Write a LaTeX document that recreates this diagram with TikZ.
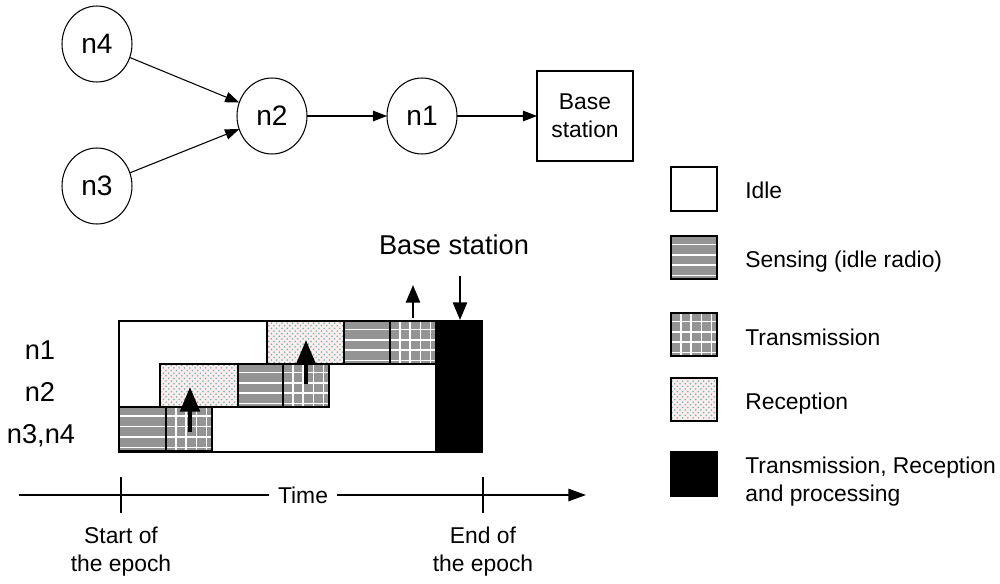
\documentclass[tikz,border=0pt]{standalone}
\usepackage{fontspec}
\setmainfont{Liberation Sans}
\usepackage{tikz}
\usetikzlibrary{arrows,%
                arrows.meta,%
                patterns,%
                calc,%
                shapes.geometric}
\usepackage{tkz-berge}
\newcommand{\hstripes}{\foreach \f in {0.2,0.44,0.68,0.92}
  \draw[white,line width=0.9pt] ($(path picture bounding box.north west)!\f!(path picture bounding box.south west)$)
    -- ($(path picture bounding box.north east)!\f!(path picture bounding box.south east)$);}
\newcommand{\vstripes}{\foreach \f in {0.22,0.44,0.66,0.88}
  \draw[white,line width=0.9pt] ($(path picture bounding box.north west)!\f!(path picture bounding box.north east)$)
    -- ($(path picture bounding box.south west)!\f!(path picture bounding box.south east)$);}
\tikzstyle{wsn}=[ellipse, draw, line width=0.6pt, fill=white, minimum width=1.4cm, minimum height=1.52cm, inner sep=0pt, font=\fontsize{16}{19}\selectfont]
\tikzstyle{sink}=[rectangle, draw, line width=0.6pt, fill=white, minimum width=1.92cm, minimum height=1.8cm, align=center, font=\fontsize{13}{16}\selectfont]
\tikzstyle{link}=[line width=0.6pt, -{Triangle[length=8pt,width=6pt]}]
\tikzstyle{idle}=[draw, line width=0.6pt, fill=white]
\tikzstyle{sensing}=[draw, line width=0.6pt, fill=black!42, path picture={\hstripes}]
\tikzstyle{transmission}=[draw, line width=0.6pt, fill=black!42, path picture={\hstripes\vstripes}]
\tikzstyle{reception}=[draw, line width=0.6pt, preaction={fill=red!7}, pattern=crosshatch dots, pattern color=teal!60]
\tikzstyle{processing}=[draw, line width=0.6pt, fill=black]
\tikzstyle{hop}=[line width=2.3pt, -{Triangle[length=14pt,width=11pt]}]
\tikzstyle{bsarrow}=[line width=1.3pt, -{Triangle[length=10pt,width=8pt]}]
\tikzstyle{timeline}=[line width=0.9pt, -{Triangle[length=10pt,width=7pt]}]
\tikzstyle{txt}=[inner sep=0pt, font=\fontsize{13}{16}\selectfont]
\tikzstyle{big}=[inner sep=0pt, font=\fontsize{15.5}{18}\selectfont]

\begin{document}
\begin{tikzpicture}[x=0.02cm,y=-0.02cm]
  \useasboundingbox (0,0) rectangle (1000,584);
  % routing tree
  \tikzstyle{VertexStyle}=[wsn]
  \Vertex[x=97,y=44]{n4}
  \Vertex[x=97,y=186]{n3}
  \Vertex[x=272,y=116]{n2}
  \Vertex[x=422,y=116]{n1}
  \tikzstyle{VertexStyle}=[sink]
  \Vertex[x=585,y=116,L={Base\\station}]{bs}
  \tikzstyle{EdgeStyle}=[link]
    \Edge(n4)(n2)
    \Edge(n3)(n2)
    \Edge(n2)(n1)
    \Edge(n1)(bs)

  % epoch schedule
  \draw[idle] (119,321) rectangle (482,452);
  \draw[sensing] (119,407) rectangle (166,451);
  \draw[transmission] (166,407) rectangle (212,451);
  \draw[reception] (160,364) rectangle (238,407);
  \draw[sensing] (238,364) rectangle (283,407);
  \draw[transmission] (283,364) rectangle (329,407);
  \draw[reception] (267,321) rectangle (344,364);
  \draw[sensing] (344,321) rectangle (390,364);
  \draw[transmission] (390,321) rectangle (436,364);
  \draw[processing] (436,321) rectangle (482,452);
  \draw[hop] (190,432) -- (190,387);
  \draw[hop] (306,384) -- (306,340);
  \draw[bsarrow] (413,318) -- (413,285);
  \draw[bsarrow] (460,276) -- (460,320);
  \node[big] (bslab) at (454,245) {Base station};
  \node[big] (lab1) at (40,350) {n1};
  \node[big] (lab2) at (40,392) {n2};
  \node[big] (lab34) at (41,436) {n3,n4};

  % time axis
  \coordinate (t0) at (19,495);
  \coordinate (t1) at (586,495);
  \draw[timeline] (t0) -- (t1);
  \node[txt, fill=white, inner sep=5pt] (time) at (303,495) {Time};
  \draw[line width=0.6pt] (121,477) -- (121,513);
  \draw[line width=0.6pt] (483,477) -- (483,513);
  \node[txt, align=center] (start) at (121,552) {Start of\\the epoch};
  \node[txt, align=center] (end) at (483,552) {End of\\the epoch};

  % legend
  \draw[idle] (671,167) rectangle (717,211);
  \draw[sensing] (671,236) rectangle (717,279);
  \draw[transmission] (671,313) rectangle (717,356);
  \draw[reception] (671,378) rectangle (717,421);
  \draw[processing] (671,452) rectangle (717,496);
  \node[txt, anchor=west] (lidle) at (745,190) {Idle};
  \node[txt, anchor=west] (lsens) at (745,262) {Sensing (idle radio)};
  \node[txt, anchor=west] (ltrans) at (745,337) {Transmission};
  \node[txt, anchor=west] (lrecv) at (745,404) {Reception};
  \node[txt, anchor=west, align=left] (lproc) at (745,482) {Transmission, Reception\\and processing};
\end{tikzpicture}
\end{document}
